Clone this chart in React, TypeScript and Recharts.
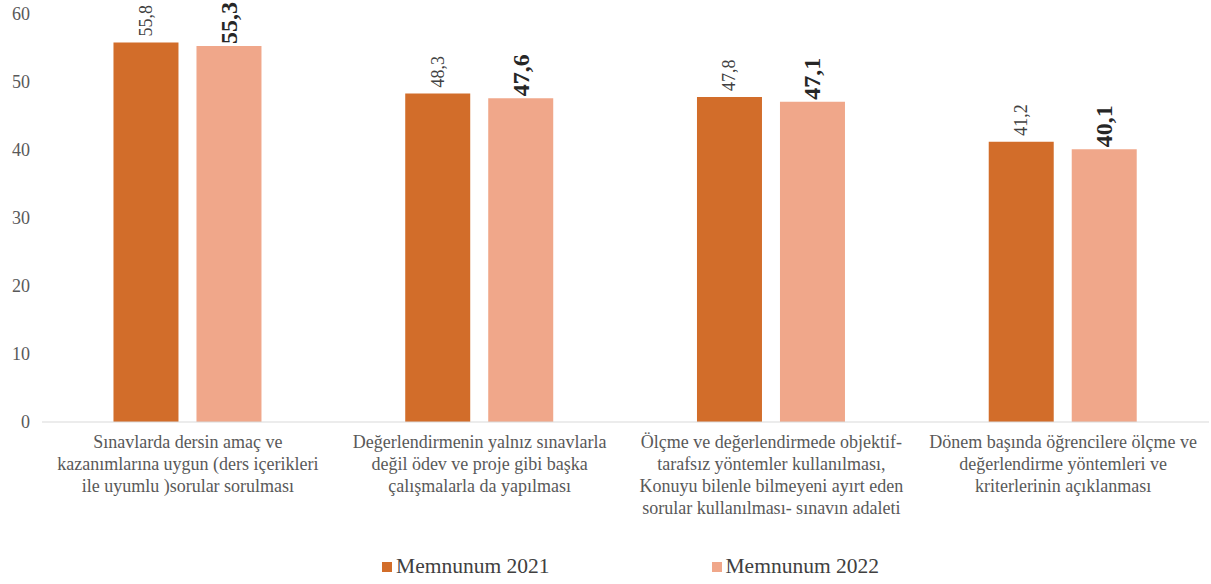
import React from 'react'
import { BarChart, Bar, XAxis, YAxis, Legend, LabelList } from 'recharts'

const categories = [
  'Sınavlarda dersin amaç ve\nkazanımlarına uygun (ders içerikleri\nile uyumlu )sorular sorulması',
  'Değerlendirmenin yalnız sınavlarla\ndeğil ödev ve proje gibi başka\nçalışmalarla da yapılması',
  'Ölçme ve değerlendirmede objektif-\ntarafsız yöntemler kullanılması,\nKonuyu bilenle bilmeyeni ayırt eden\nsorular kullanılması- sınavın adaleti',
  'Dönem başında öğrencilere ölçme ve\ndeğerlendirme yöntemleri ve\nkriterlerinin açıklanması'
]
const memnun2021 = [55.8, 48.3, 47.8, 41.2]
const memnun2022 = [55.3, 47.6, 47.1, 40.1]
const yTicks = [0, 10, 20, 30, 40, 50, 60]

const SERIES = [
  { key: 'y2021', name: 'Memnunum 2021', color: '#D26D2A' },
  { key: 'y2022', name: 'Memnunum 2022', color: '#F0A78A' }
]

const data = categories.map((name, i) => ({
  name,
  y2021: memnun2021[i],
  y2022: memnun2022[i]
}))

const FONT = 'Liberation Serif, serif'

const fmt = (v: number) => v.toFixed(1).replace('.', ',')

function CategoryTick({ x, y, payload }: any) {
  const lines = String(payload.value).split('\n')
  return (
    <text x={x} y={y} textAnchor="middle" fill="#595959" style={{ fontFamily: FONT, fontSize: 18 }}>
      {lines.map((l, i) => (
        <tspan key={i} x={x} dy={i === 0 ? 18 : 22}>
          {l}
        </tspan>
      ))}
    </text>
  )
}

const makeLabel = (bold: boolean) => (props: any) => {
  const { x, y, width, value } = props
  const cx = x + width / 2
  const ty = y - (bold ? 2 : 6)
  return (
    <text
      x={cx}
      y={ty}
      transform={`rotate(-90 ${cx} ${ty})`}
      textAnchor="start"
      dominantBaseline="central"
      fill={bold ? '#262626' : '#404040'}
      style={{ fontFamily: FONT, fontSize: bold ? 24 : 18, fontWeight: bold ? 'bold' : 'normal' }}
    >
      {fmt(value)}
    </text>
  )
}

function YTick({ x, y, payload }: any) {
  return (
    <text x={x} y={y} textAnchor="end" dominantBaseline="central" fill="#595959" style={{ fontFamily: FONT, fontSize: 18 }}>
      {payload.value}
    </text>
  )
}

function LegendBox() {
  return (
    <div style={{ display: 'flex', justifyContent: 'center', gap: 162, paddingLeft: 52, paddingTop: 14, fontFamily: FONT }}>
      {SERIES.map((s) => (
        <div key={s.key} style={{ display: 'flex', alignItems: 'center', color: '#404040', fontSize: 21.5, fontFamily: FONT }}>
          <span style={{ width: 10, height: 10, background: s.color, marginRight: 4, display: 'inline-block' }} />
          {s.name}
        </div>
      ))}
    </div>
  )
}

export default function App() {
  return (
    <div style={{ position: 'absolute', left: 0, top: 0, background: '#fff', fontFamily: FONT }}>
      <BarChart
        width={1211}
        height={584}
        data={data}
        margin={{ top: 14, right: 2, left: 0, bottom: 6 }}
        barCategoryGap="24.5%"
        barGap={18}
        style={{ fontFamily: FONT }}
      >
        <XAxis
          dataKey="name"
          tick={<CategoryTick />}
          tickLine={false}
          axisLine={{ stroke: '#D9D9D9' }}
          interval={0}
          height={118}
        />
        <YAxis
          domain={[0, 60]}
          ticks={yTicks}
          width={42}
          tickLine={false}
          axisLine={false}
          tickSize={0}
          tickMargin={12}
          tick={<YTick />}
        />
        <Legend verticalAlign="bottom" height={38} content={<LegendBox />} />
        <Bar dataKey="y2021" name={SERIES[0].name} fill={SERIES[0].color} isAnimationActive={false}>
          <LabelList dataKey="y2021" content={makeLabel(false)} />
        </Bar>
        <Bar dataKey="y2022" name={SERIES[1].name} fill={SERIES[1].color} isAnimationActive={false}>
          <LabelList dataKey="y2022" content={makeLabel(true)} />
        </Bar>
      </BarChart>
    </div>
  )
}
